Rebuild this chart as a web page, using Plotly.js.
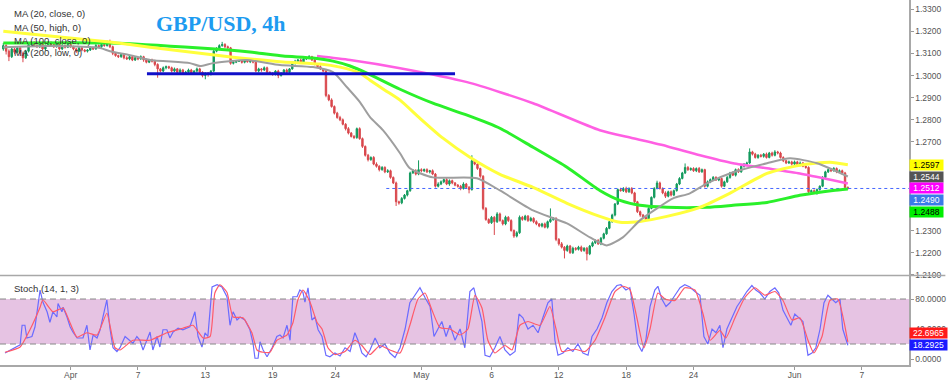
<!DOCTYPE html>
<html>
<head>
<meta charset="utf-8">
<script src="https://cdn.plot.ly/plotly-3.0.1.min.js"></script>
<style>html,body{margin:0;padding:0;background:#fff;}#chart{width:950px;height:380px;}</style>
</head>
<body>
<div id="chart"></div>
<script>
// ---- Candle data (4h bars, GBP/USD) ----
const firstOpen = 1.3120;
const close = [
1.3135,1.3110,1.3085,1.3120,1.3105,1.3125,
1.3100,1.3080,1.3110,1.3140,1.3150,1.3135,
1.3130,1.3145,1.3120,1.3135,1.3150,1.3140,
1.3130,1.3145,1.3120,1.3135,1.3128,1.3140,
1.3130,1.3120,1.3110,1.3125,1.3115,1.3110,
1.3115,1.3125,1.3120,1.3135,1.3130,1.3140,
1.3135,1.3150,1.3130,1.3100,1.3090,1.3085,
1.3095,1.3080,1.3075,1.3085,1.3070,1.3080,
1.3075,1.3085,1.3070,1.3060,1.3070,1.3065,
1.3050,1.3030,1.3020,1.3035,1.3040,1.3035,
1.3020,1.3030,1.3015,1.3025,1.3010,1.3015,
1.3025,1.3010,1.3020,1.3030,1.3015,1.3000,
1.3010,1.3005,1.3020,1.3110,1.3120,1.3135,
1.3140,1.3130,1.3125,1.3055,1.3060,1.3065,
1.3065,1.3060,1.3070,1.3062,1.3068,1.3060,
1.3020,1.3030,1.3025,1.3035,1.3015,1.3010,
1.3005,1.3020,1.3000,1.3010,1.3025,1.3015,
1.3030,1.3055,1.3065,1.3070,1.3060,1.3075,
1.3080,1.3085,1.3070,1.3050,1.3040,1.3030,
1.3020,1.2910,1.2890,1.2860,1.2830,1.2810,
1.2800,1.2780,1.2760,1.2740,1.2725,1.2720,
1.2760,1.2715,1.2680,1.2640,1.2620,1.2630,
1.2600,1.2590,1.2575,1.2585,1.2565,1.2570,
1.2540,1.2515,1.2430,1.2425,1.2445,1.2460,
1.2480,1.2560,1.2570,1.2555,1.2575,1.2570,
1.2575,1.2565,1.2570,1.2555,1.2500,1.2510,
1.2520,1.2530,1.2510,1.2525,1.2515,1.2505,
1.2500,1.2490,1.2510,1.2495,1.2485,1.2615,
1.2600,1.2580,1.2545,1.2400,1.2350,1.2335,
1.2360,1.2340,1.2375,1.2345,1.2330,1.2360,
1.2345,1.2300,1.2275,1.2290,1.2360,1.2350,
1.2365,1.2345,1.2355,1.2340,1.2330,1.2320,
1.2330,1.2315,1.2340,1.2350,1.2355,1.2260,
1.2240,1.2225,1.2210,1.2230,1.2200,1.2220,
1.2215,1.2225,1.2210,1.2220,1.2195,1.2230,
1.2245,1.2255,1.2240,1.2265,1.2285,1.2310,
1.2340,1.2370,1.2420,1.2485,1.2480,1.2490,
1.2475,1.2490,1.2470,1.2430,1.2385,1.2370,
1.2360,1.2350,1.2400,1.2450,1.2490,1.2515,
1.2490,1.2470,1.2455,1.2475,1.2460,1.2480,
1.2510,1.2535,1.2560,1.2585,1.2575,1.2580,
1.2570,1.2580,1.2565,1.2575,1.2500,1.2520,
1.2530,1.2540,1.2528,1.2535,1.2500,1.2520,
1.2540,1.2560,1.2550,1.2575,1.2565,1.2590,
1.2600,1.2605,1.2655,1.2645,1.2630,1.2640,
1.2635,1.2645,1.2630,1.2650,1.2640,1.2655,
1.2650,1.2630,1.2615,1.2605,1.2610,1.2600,
1.2610,1.2595,1.2605,1.2590,1.2585,1.2475,
1.2480,1.2470,1.2485,1.2500,1.2540,1.2565,
1.2575,1.2570,1.2580,1.2565,1.2570,1.2560,
1.2495,1.2490
];
// upper / lower wick lengths in pips
const wickUp = [
12,6,8,10,5,7, 5,8,6,10,6,5, 6,5,8,5,6,4, 5,6,4,8,5,6, 6,5,4,7,5,4,
4,6,5,7,5,6, 6,8,12,5,6,4, 6,5,7,4,6,5, 5,6,4,7,5,6, 6,5,4,6,5,4,
5,6,4,7,5,6, 6,5,4,6,5,4, 4,6,5,6,8,6, 12,6,5,4,6,5, 5,4,6,5,4,6,
6,5,4,6,5,4, 5,4,6,5,4,6, 4,5,6,5,7,6, 5,7,4,5,4,6, 4,5,6,7,5,6,
8,6,5,7,5,6, 5,6,5,4,6,5, 6,8,5,6,5,7, 5,4,6,5,6,5, 4,6,8,7,42,6,
5,6,4,6,5,8, 6,5,7,6,5,4, 5,6,8,5,6,25, 6,5,4,5,6,5, 6,5,8,6,5,7,
5,6,5,7,8,6, 6,5,7,5,6,4, 5,6,5,50,6,5, 6,8,5,6,5,7, 5,6,7,5,6,5,
6,5,7,6,5,6, 5,6,4,5,8,6, 8,5,6,5,4,5, 5,6,5,4,6,10, 6,5,7,5,6,5,
5,6,5,18,6,5, 6,5,7,5,4,6, 5,6,5,6,4,5, 6,5,7,5,6,5, 5,6,16,5,6,5,
6,5,7,5,6,8, 5,6,5,4,6,5, 6,5,7,5,4,5, 5,6,5,4,6,5, 6,5,7,5,6,5,
5,4
];
const wickDn = [
8,15,20,6,9,5, 12,20,5,6,8,6, 5,6,5,7,4,6, 6,4,7,5,6,4, 5,6,8,4,6,5,
6,4,5,4,6,5, 5,4,6,8,5,6, 5,7,4,6,5,4, 6,4,8,5,4,6, 8,40,6,5,7,6,
6,5,8,5,6,7, 5,6,5,7,6,8, 17,10,5,4,5,6, 5,6,4,6,5,4, 4,6,5,4,6,5,
5,6,8,5,6,7, 6,5,12,5,6,4, 5,4,6,5,4,5, 5,6,5,4,6,5, 5,8,6,5,6,5,
6,5,8,6,5,7, 6,5,7,6,8,5, 5,6,8,5,6,5, 6,5,19,8,6,5, 6,5,4,6,5,7,
6,5,7,5,6,5, 5,6,5,8,6,5, 6,8,5,6,17,5, 5,6,7,8,6,5, 5,60,6,5,7,6,
6,5,8,6,5,6, 5,6,5,7,6,5, 6,5,6,5,6,8, 8,6,36,6,5,6, 6,5,7,6,30,6,
5,6,5,6,5,4, 4,5,6,5,4,6, 6,5,6,5,6,8, 8,6,5,4,5,4, 5,6,8,5,6,5,
4,5,4,5,6,5, 5,6,5,4,6,5, 6,5,4,5,6,4, 5,6,4,6,5,4, 6,5,4,6,5,6,
5,6,5,4,6,5, 6,5,6,5,4,6, 5,6,5,4,6,8, 6,5,8,5,4,6, 5,6,4,6,5,8,
6,5
];

// ---- Moving averages (bar index, value) ----
const ma20Bar = [0,16.6,34.5,38,45.2,52.3,66.5,70.1,74.7,86.8,98.6,110.4,117.5,122.5,127.1,130.7,135.3,141.4,144.9,153.1,168.8,177,188.8,200.9,209.1,215.1,220.8,226.9,233,238.7,244.7,250.8,260.1,272.2,280.4,290,301];
const ma20 = [1.3128,1.3133,1.3124,1.3110,1.3092,1.3070,1.3056,1.3043,1.3056,1.3070,1.3047,1.3038,1.3015,1.2947,1.2880,1.2812,1.2753,1.2649,1.2581,1.2540,1.2536,1.2481,1.2391,1.2332,1.2269,1.2233,1.2269,1.2346,1.2400,1.2445,1.2468,1.2513,1.2563,1.2604,1.2626,1.2604,1.2544];
const ma50Bar = [0,16.6,38,52.3,70.1,81.9,99.7,112.9,120,127.1,130.7,136,141.4,148.5,156.7,166.3,177,188.8,200.9,212.6,219.8,226.9,236.5,248.3,258.9,272.2,283.9,294.6,301];
const ma50 = [1.3200,1.3178,1.3151,1.3128,1.3101,1.3083,1.3061,1.3052,1.3038,1.3011,1.2979,1.2934,1.2889,1.2807,1.2717,1.2631,1.2554,1.2495,1.2423,1.2364,1.2337,1.2341,1.2364,1.2405,1.2468,1.2558,1.2595,1.2608,1.2597];
const ma100Bar = [0,38,70.1,87.9,99.7,110.4,117.5,123.6,129.6,141.4,153.1,165.3,177,188.8,200.9,212.6,219.8,226.9,236.5,250.8,260.1,272.2,283.9,295.7,301];
const ma100 = [1.3147,1.3147,1.3124,1.3106,1.3088,1.3079,1.3065,1.3043,1.3011,1.2938,1.2875,1.2821,1.2762,1.2676,1.2586,1.2481,1.2436,1.2414,1.2405,1.2405,1.2414,1.2427,1.2459,1.2481,1.2488];
const ma200Bar = [111.8,123.6,141.4,165.3,188.8,212.6,224.4,236.5,248.3,260.1,272.2,283.9,295.7,301];
const ma200 = [1.3088,1.3070,1.3033,1.2970,1.2875,1.2753,1.2717,1.2681,1.2640,1.2604,1.2581,1.2558,1.2527,1.2512];

// ---- Stochastic (14,1,3) ----
const stochKBar = [0.6,4.9,6.0,6.7,7.7,8.4,10.2,11.3,13.1,14.1,15.6,16.6,17.7,19.1,19.5,20.9,21.3,22.7,23.8,24.8,26.3,28.4,29.8,30.9,32.0,33.4,34.5,35.5,36.9,38.0,39.1,40.5,41.6,43.4,45.2,46.2,47.6,48.7,49.8,51.2,52.3,53.3,54.8,55.8,56.9,58.3,59.4,60.5,62.3,64.0,66.5,68.3,69.4,70.8,71.9,72.9,74.4,76.2,77.9,79.7,80.8,81.9,83.3,84.4,86.1,87.9,89.0,89.7,90.8,91.5,92.6,94.0,95.8,97.5,98.6,99.7,101.1,102.2,103.2,104.7,105.7,106.8,107.5,108.6,110.0,111.1,112.2,
113.6,115.0,116.4,118.2,120.0,121.8,123.6,125.3,126.4,127.8,129.3,130.7,132.5,134.2,136.0,137.8,139.6,141.4,143.2,144.9,146.7,148.5,150.3,152.1,153.5,154.9,156.3,157.8,159.2,161.0,162.8,164.5,166.3,167.7,169.2,170.6,171.7,173.4,175.2,177.0,178.8,180.6,182.4,183.8,185.2,187.0,188.8,190.6,192.3,194.1,195.5,196.6,197.7,199.5,201.2,203.0,204.8,206.6,208.4,209.8,211.6,213.4,215.1,216.9,218.7,220.1,221.9,223.3,224.8,226.2,227.6,229.0,230.5,232.2,233.3,234.7,236.2,237.6,239.4,241.2,242.9,244.7,246.5,248.3,249.7,251.1,252.6,254.0,255.4,256.5,257.9,259.7,261.5,263.3,265.0,266.8,268.2,269.7,271.4,273.2,275.0,276.4,277.9,279.3,280.7,282.1,283.6,285.0,286.8,288.2,289.6,291.1,292.5,293.9,295.3,296.7,298.2,299.2,301.0];
const stochK = [8,16,19,45,45,28,30,43,92,76,63,49,63,56,74,63,69,56,43,36,28,28,45,12,32,28,39,56,79,41,15,10,15,30,25,21,30,25,12,25,36,12,30,16,39,39,28,36,41,39,43,63,30,16,35,30,96,99,96,83,45,63,52,56,52,39,21,1,1,23,12,3,15,30,32,28,45,25,83,83,92,89,76,95,52,56,39,
30,5,3,8,4,15,10,35,25,8,3,12,28,15,20,8,2,15,40,75,85,95,82,70,30,40,50,30,45,25,40,15,90,95,70,50,5,3,15,30,12,5,10,60,55,40,45,35,55,75,80,25,5,8,15,10,20,8,5,30,40,55,75,90,98,99,92,95,60,20,10,25,70,92,97,80,70,75,85,95,99,96,90,85,30,20,40,35,45,15,40,55,70,80,90,98,92,88,80,90,95,88,65,55,45,60,55,50,5,8,15,40,75,85,80,75,80,40,18.2925];
const stochDBar = [0.6,6.0,9.5,13.1,14.1,17.7,21.3,23.8,26.3,29.8,33.4,36.9,39.8,41.6,46.2,52.3,58.3,64.0,67.6,71.2,73.7,75.4,77.2,79.7,81.9,85.4,88.6,90.4,92.6,95.0,97.5,101.1,103.2,105.0,106.8,109.3,111.8,
113.6,115.7,118.2,121.8,125.3,127.8,130.7,134.2,137.8,141.4,144.9,147.8,150.3,152.8,155.6,159.2,162.8,165.6,168.1,170.6,172.7,175.2,178.8,181.3,184.1,187.0,191.3,194.8,197.0,199.1,203.7,207.3,210.9,214.4,218.0,220.8,223.3,225.8,228.3,230.5,233.3,235.8,239.4,242.9,246.5,249.4,251.9,255.4,257.5,260.8,264.3,267.9,271.4,275.0,277.9,281.1,283.9,286.8,288.9,291.8,294.6,297.4,301.0];
const stochD = [9,16,39,69,79,63,68,48,29,35,32,61,15,12,25,25,35,41,45,28,30,88,99,89,56,55,35,12,9,9,25,32,48,79,92,76,49,
40,15,6,10,25,18,6,18,12,8,45,80,88,65,42,40,32,40,85,68,25,8,18,12,45,50,45,70,40,10,13,10,25,55,90,97,93,55,15,40,88,80,78,95,92,60,25,38,28,55,82,95,85,90,78,52,55,25,8,30,78,80,22.6965];

// ---- Levels and labels ----
const supportLevel = 1.3008, supportFrom = 51.2, supportTo = 161;
const lastPrice = 1.2490, priceLineFrom = 136.5;
const xTickVals = [24,48,72,96,118.3,149,174,198,222,246,282,306];
const xTickText = ['Apr','7','13','19','24','May','6','12','18','24','Jun','7'];
// 1.24 / 1.25 / 1.26 are hidden behind the last-value labels in the reference
const priceTicks = [1.21,1.22,1.23,1.27,1.28,1.29,1.30,1.31,1.32,1.33];
const stochTicks = [0,40,80];
const maLegend = ['MA (20, close, 0)','MA (50, high, 0)','MA (100, close, 0)','MA (200, low, 0)'];
const lastLabels = [
  {text:'1.2597', bg:'#ffff00', fg:'#000'},
  {text:'1.2544', bg:'#555555', fg:'#fff'},
  {text:'1.2512', bg:'#ff00ff', fg:'#fff'},
  {text:'1.2490', bg:'#3a7be8', fg:'#fff'},
  {text:'1.2488', bg:'#00ee00', fg:'#000'}
];
const stochLabels = [
  {text:'22.6965', bg:'#ff1a1a', fg:'#fff'},
  {text:'18.2925', bg:'#1a1aff', fg:'#fff'}
];

// ---- Build ----
const n = close.length;
const bars = close.map((_, i) => i);
const open = [firstOpen].concat(close.slice(0, n - 1));
const high = close.map((c, i) => Math.max(open[i], c) + wickUp[i] * 1e-4);
const low = close.map((c, i) => Math.min(open[i], c) - wickDn[i] * 1e-4);

const XR = [-1.18, 322.8];
const PLOT_W = 909, PLOT_H = 365;
const py = px => 1 - px / PLOT_H;
const pxX = px => px / PLOT_W;

const data = [
  {type:'candlestick', x:bars, open:open, high:high, low:low, close:close,
   xaxis:'x', yaxis:'y', whiskerwidth:0,
   increasing:{line:{color:'#139a5d', width:1}, fillcolor:'#139a5d'},
   decreasing:{line:{color:'#d9474c', width:1}, fillcolor:'#d9474c'},
   hoverinfo:'skip'},
  {type:'scatter', mode:'lines', x:[priceLineFrom, XR[1]], y:[lastPrice, lastPrice],
   line:{color:'#4466ff', width:1, dash:'dot'}, xaxis:'x', yaxis:'y', hoverinfo:'skip'},
  {type:'scatter', mode:'lines', x:ma200Bar, y:ma200, line:{color:'#ff5fe3', width:2.5, shape:'spline', smoothing:0.6}, xaxis:'x', yaxis:'y', hoverinfo:'skip'},
  {type:'scatter', mode:'lines', x:ma100Bar, y:ma100, line:{color:'#2af02a', width:3, shape:'spline', smoothing:0.6}, xaxis:'x', yaxis:'y', hoverinfo:'skip'},
  {type:'scatter', mode:'lines', x:ma50Bar, y:ma50, line:{color:'#ffff3c', width:3, shape:'spline', smoothing:0.6}, xaxis:'x', yaxis:'y', hoverinfo:'skip'},
  {type:'scatter', mode:'lines', x:ma20Bar, y:ma20, line:{color:'#9e9e9e', width:2, shape:'spline', smoothing:0.6}, xaxis:'x', yaxis:'y', hoverinfo:'skip'},
  {type:'scatter', mode:'lines', x:[supportFrom, supportTo], y:[supportLevel, supportLevel],
   line:{color:'#1010c8', width:3}, xaxis:'x', yaxis:'y', hoverinfo:'skip'},
  {type:'scatter', mode:'lines', x:stochKBar, y:stochK, line:{color:'#6b6bff', width:1.2}, xaxis:'x', yaxis:'y2', hoverinfo:'skip'},
  {type:'scatter', mode:'lines', x:stochDBar, y:stochD, line:{color:'#ff5a6a', width:1.2, shape:'spline', smoothing:0.5}, xaxis:'x', yaxis:'y2', hoverinfo:'skip'}
];

const axisFont = {family:'Liberation Sans, Arial, sans-serif', size:8.5, color:'#555'};
const annotations = [];
maLegend.forEach((t, k) => annotations.push({xref:'paper', yref:'paper', x:pxX(12), y:py(14 + 13 * k),
  xanchor:'left', yanchor:'middle', text:t, showarrow:false,
  font:{family:'Liberation Sans, Arial, sans-serif', size:9.5, color:'#333'}}));
annotations.push({xref:'paper', yref:'paper', x:pxX(12), y:py(288), xanchor:'left', yanchor:'middle',
  text:'Stoch (14, 1, 3)', showarrow:false, font:{family:'Liberation Sans, Arial, sans-serif', size:9.5, color:'#333'}});
annotations.push({xref:'paper', yref:'paper', x:pxX(154), y:py(24), xanchor:'left', yanchor:'middle',
  text:'<b>GBP/USD, 4h</b>', showarrow:false, font:{family:'Liberation Serif, Times New Roman, serif', size:22, color:'#1d9bf0'}});
const labelY = [164.5, 176.5, 188, 199.5, 211.5];
lastLabels.forEach((l, k) => annotations.push({xref:'paper', yref:'paper', x:pxX(909), y:py(labelY[k]),
  xanchor:'left', yanchor:'middle', text:l.text, showarrow:false, bgcolor:l.bg, width:33, height:10, align:'center',
  borderpad:0, font:{family:'Liberation Sans, Arial, sans-serif', size:8.5, color:l.fg}}));
const sLabelY = [333, 344.5];
stochLabels.forEach((l, k) => annotations.push({xref:'paper', yref:'paper', x:pxX(909), y:py(sLabelY[k]),
  xanchor:'left', yanchor:'middle', text:l.text, showarrow:false, bgcolor:l.bg, width:37, height:10, align:'center',
  borderpad:0, font:{family:'Liberation Sans, Arial, sans-serif', size:8.5, color:l.fg}}));

const shapes = [
  {type:'rect', xref:'paper', yref:'y2', x0:0, x1:1, y0:20, y1:80, fillcolor:'#e6c3e3', line:{width:0}, layer:'below'},
  {type:'line', xref:'paper', yref:'y2', x0:0, x1:1, y0:80, y1:80, line:{color:'#888', width:1, dash:'6px,4px'}},
  {type:'line', xref:'paper', yref:'y2', x0:0, x1:1, y0:20, y1:20, line:{color:'#888', width:1, dash:'6px,4px'}},
  {type:'line', xref:'paper', yref:'paper', x0:0, x1:1.04, y0:py(275.5), y1:py(275.5), line:{color:'#a8a8a8', width:1.5}}
];

const layout = {
  width:950, height:380,
  margin:{l:0, r:41, t:0, b:15, pad:0},
  paper_bgcolor:'#ffffff', plot_bgcolor:'#ffffff',
  showlegend:false, hovermode:false,
  xaxis:{range:XR, tickvals:xTickVals, ticktext:xTickText, ticks:'outside', ticklen:3, tickcolor:'#999',
    ticklabelstandoff:-2,
    showgrid:false, zeroline:false, showline:true, linecolor:'#a8a8a8', linewidth:1.5,
    rangeslider:{visible:false}, anchor:'y2', tickfont:axisFont, fixedrange:true},
  yaxis:{domain:[1 - 275.5 / PLOT_H, 1], range:[1.2097, 1.3341], side:'right', anchor:'x',
    tickvals:priceTicks, tickformat:'.4f', ticks:'outside', ticklen:3, tickcolor:'#999',
    showline:true, linecolor:'#a8a8a8', linewidth:1.5, showgrid:false, zeroline:false, tickfont:axisFont, fixedrange:true},
  yaxis2:{domain:[0, 1 - 276 / PLOT_H], range:[-8, 110.7], side:'right', anchor:'x',
    tickvals:stochTicks, tickformat:'.4f', ticks:'outside', ticklen:3, tickcolor:'#999',
    showline:true, linecolor:'#a8a8a8', linewidth:1.5, showgrid:false, zeroline:false, tickfont:axisFont, fixedrange:true},
  annotations:annotations,
  shapes:shapes
};

Plotly.newPlot('chart', data, layout, {staticPlot:true, displayModeBar:false});
</script>
</body>
</html>
